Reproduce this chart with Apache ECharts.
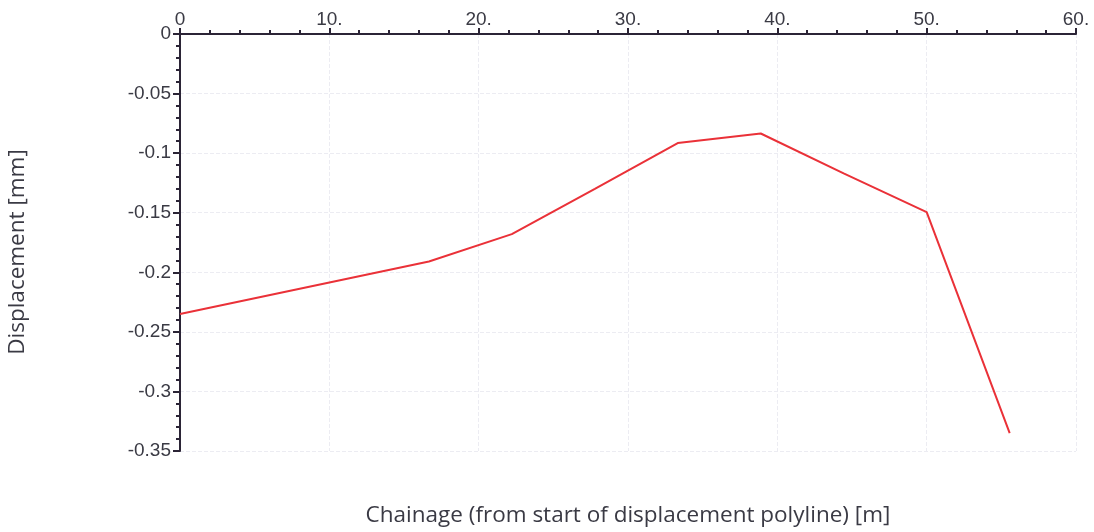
<!DOCTYPE html>
<html>
<head>
<meta charset="utf-8">
<script src="https://cdn.jsdelivr.net/npm/echarts@6/dist/echarts.min.js"></script>
<style>html,body{margin:0;padding:0;background:#fff;}#c{width:1094px;height:532px;}</style>
</head>
<body>
<div id="c"></div>
<script>
const chainage = [0, 16.67, 22.22, 27.78, 33.33, 38.89, 44.44, 50.0, 55.56];
const displacement = [-0.235, -0.191, -0.168, -0.130, -0.0915, -0.0835, -0.117, -0.1495, -0.335];
const xTicks = { min: 0, max: 60, interval: 10 };
const yTicks = { min: -0.35, max: 0, interval: 0.05 };
const xName = 'Chainage (from start of displacement polyline) [m]';
const yName = 'Displacement [mm]';

const chart = echarts.init(document.getElementById('c'), null, { renderer: 'canvas' });
const axisColor = '#2b2436';
const gridColor = '#ececf2';
const labelFont = 'Liberation Sans, Arial, sans-serif';
const nameFont = 'Open Sans, Noto Sans, sans-serif';
chart.setOption({
  animation: false,
  backgroundColor: '#fff',
  grid: { left: 180, top: 34, right: 18, bottom: 81, containLabel: false },
  xAxis: {
    type: 'value', position: 'top',
    min: xTicks.min, max: xTicks.max, interval: xTicks.interval,
    axisLine: { show: true, onZero: false, lineStyle: { color: axisColor, width: 2 } },
    axisTick: { show: true, inside: false, length: 6, lineStyle: { color: axisColor, width: 2 } },
    minorTick: { show: true, splitNumber: 5, length: 4, lineStyle: { color: axisColor, width: 2 } },
    axisLabel: { color: '#3a3a44', fontSize: 19, fontFamily: labelFont, margin: 5,
      formatter: v => v === 0 ? '0' : v + '.' },
    splitLine: { show: true, lineStyle: { color: gridColor, width: 1, type: 'dashed' } }
  },
  yAxis: {
    type: 'value',
    min: yTicks.min, max: yTicks.max, interval: yTicks.interval,
    axisLine: { show: true, onZero: false, lineStyle: { color: axisColor, width: 2 } },
    axisTick: { show: true, inside: false, length: 7, lineStyle: { color: axisColor, width: 2 } },
    minorTick: { show: true, splitNumber: 5, length: 4, lineStyle: { color: axisColor, width: 2 } },
    axisLabel: { color: '#3a3a44', fontSize: 19, fontFamily: labelFont, margin: 9,
      formatter: v => String(+v.toFixed(2)) },
    splitLine: { show: true, lineStyle: { color: gridColor, width: 1, type: 'dashed' } }
  },
  graphic: [{
    type: 'text', x: 628, y: 504,
    style: { text: xName, fill: '#3a3a44', fontSize: 22.5, fontFamily: nameFont, textAlign: 'center', textVerticalAlign: 'top' }
  }, {
    type: 'text', x: 18, y: 252, rotation: Math.PI / 2,
    style: { text: yName, fill: '#3a3a44', fontSize: 22.5, fontFamily: nameFont, textAlign: 'center', textVerticalAlign: 'middle' }
  }],
  series: [{
    type: 'line',
    data: chainage.map((c, i) => [c, displacement[i]]),
    showSymbol: false, symbol: 'none',
    lineStyle: { color: '#ea3138', width: 2 },
    z: 5
  }]
});
</script>
</body>
</html>
